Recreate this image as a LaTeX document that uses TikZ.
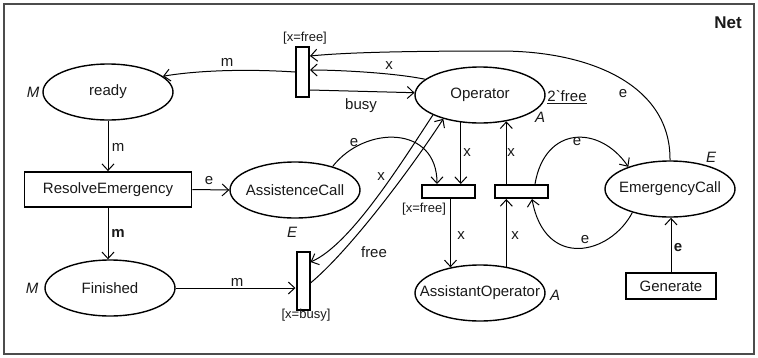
\documentclass[tikz,border=0pt]{standalone}
\usepackage{fontspec}
\setmainfont{Liberation Sans}[Ligatures=TeXOff]
\usetikzlibrary{arrows.meta,shapes.geometric,calc}
\begin{document}
\begin{tikzpicture}[x=1pt,y=-1pt,
  every node/.style={font=\fontsize{15}{17}\selectfont, text=black!90},
  place/.style={ellipse, draw, line width=1.4pt, minimum width=130pt, minimum height=56pt, inner sep=0pt},
  trans/.style={draw, line width=2pt, fill=white, inner sep=0pt},
  vtrans/.style={trans, minimum width=13pt, minimum height=50pt},
  htrans/.style={trans, minimum width=53pt, minimum height=13pt},
  actbox/.style={draw, line width=1.8pt, inner sep=0pt},
  arc/.style={line width=1pt, -{Straight Barb[length=6.5pt,width=12pt]}},
  lab/.style={inner sep=0pt},
  guard/.style={inner sep=0pt, font=\fontsize{13}{15}\selectfont},
  typ/.style={inner sep=0pt, font=\fontsize{15}{17}\selectfont\itshape},
]
\useasboundingbox (0,0) rectangle (758,357);
\draw[black!70, line width=1.3pt] (4,4) rectangle (754,354);
\node[inner sep=0pt, font=\fontsize{17}{19}\selectfont\bfseries] (net) at (728,23) {Net};

% places
\node[place] (ready) at (108,92) {\makebox[0pt]{ready}};
\node[place] (oper) at (480,95) {\makebox[0pt]{Operator}};
\node[place] (acall) at (295,190) {\makebox[0pt]{AssistenceCall}};
\node[place] (fin) at (110,288) {\makebox[0pt]{Finished}};
\node[place] (ecall) at (670,189) {\makebox[0pt]{EmergencyCall}};
\node[place] (aop) at (480,293) {\makebox[0pt]{AssistantOperator}};

% boxes
\node[actbox, minimum width=167pt, minimum height=35pt] (resolve) at (108,189.5) {ResolveEmergency};
\node[actbox, minimum width=90pt, minimum height=26pt] (gen) at (671,286) {Generate};

% transitions
\node[vtrans] (tT) at (302.5,72) {};
\node[vtrans, minimum height=58pt] (tB) at (303,281) {};
\node[htrans] (tL) at (448,191.5) {};
\node[htrans] (tR) at (521,191.5) {};

% type / initial labels
\node[typ] (mReady) at (33,92) {M};
\node[typ] (mFin) at (32,288) {M};
\node[typ] (aOp) at (540,117) {A};
\node[typ] (eAc) at (292,232) {E};
\node[typ] (eEc) at (711,157) {E};
\node[typ] (aAo) at (555,295) {A};
\node[lab] (init) at (567,97) {\underline{2`free}};

% guards
\node[guard] (g1) at (305,38) {[x=free]};
\node[guard] (g2) at (424,209) {[x=free]};
\node[guard] (g3) at (306,315) {[x=busy]};

% arcs
\draw[arc] (tT.west) .. controls (250,69) and (200,70) .. (ready.16);
\node[lab] (l1) at (227,62) {m};
\draw[arc] (oper.164) .. controls (395,73) and (340,70) .. ($(tT.east)+(0,-2)$);
\node[lab] (l2) at (389,66) {x};
\draw[arc] ($(tT.east)+(0,18)$) -- (oper.178);
\node[lab] (l3) at (361,106) {busy};
\draw[arc] (ecall.north) .. controls (671,85) and (590,51) .. (500,51)
   .. controls (420,51) and (350,52) .. ($(tT.east)+(0,-16)$);
\node[lab] (l4) at (623,94) {e};

\draw[arc] (ready.south) -- (ready.south |- resolve.north);
\node[lab] (l5) at (118,147) {m};
\draw[arc] (resolve.east) -- (acall.west);
\node[lab] (l6) at (209,181) {e};
\draw[arc] (resolve.south) -- (resolve.south |- fin.north);
\node[lab, font=\fontsize{15}{17}\selectfont\bfseries] (l7) at (118,233) {m};
\draw[arc] (fin.east) -- (fin.east -| tB.west);
\node[lab] (l8) at (237,282) {m};

\draw[arc] (oper.203) .. controls (400,165) and (350,245) .. ($(tB.east)+(0,-19)$);
\node[lab] (l9) at (381,177) {x};
\draw[arc] ($(tB.east)+(0,2)$) .. controls (350,250) and (410,170) .. (oper.213);
\node[lab] (l10) at (374,252) {free};

\draw[arc] (oper.235) -- (oper.235 |- tL.north);
\node[lab] (l11) at (467,153) {x};
\draw[arc] (acall.32) .. controls (365,125) and (437,125) .. ($(tL.north)+(-11,0)$);
\node[lab] (l12) at (354,143) {e};
\draw[arc] (aop.139 |- tL.south) -- (aop.139);
\node[lab] (l13) at (461,236) {x};
\draw[arc] (aop.45) -- (aop.45 |- tR.south);
\node[lab] (l14) at (515,236) {x};
\draw[arc] (oper.315 |- tR.north) -- (oper.315);
\node[lab] (l15) at (511,153) {x};
\draw[arc] ($(tR.north)+(14,0)$) .. controls (545,125) and (600,125) .. (ecall.152);
\node[lab] (l16) at (577,142) {e};
\draw[arc] (ecall.212) .. controls (610,255) and (545,270) .. ($(tR.south)+(11,0)$);
\node[lab] (l17) at (585,240) {e};
\draw[arc] (gen.north) -- (gen.north |- ecall.south);
\node[lab, font=\fontsize{15}{17}\selectfont\bfseries] (l18) at (678,248) {e};
\end{tikzpicture}
\end{document}
